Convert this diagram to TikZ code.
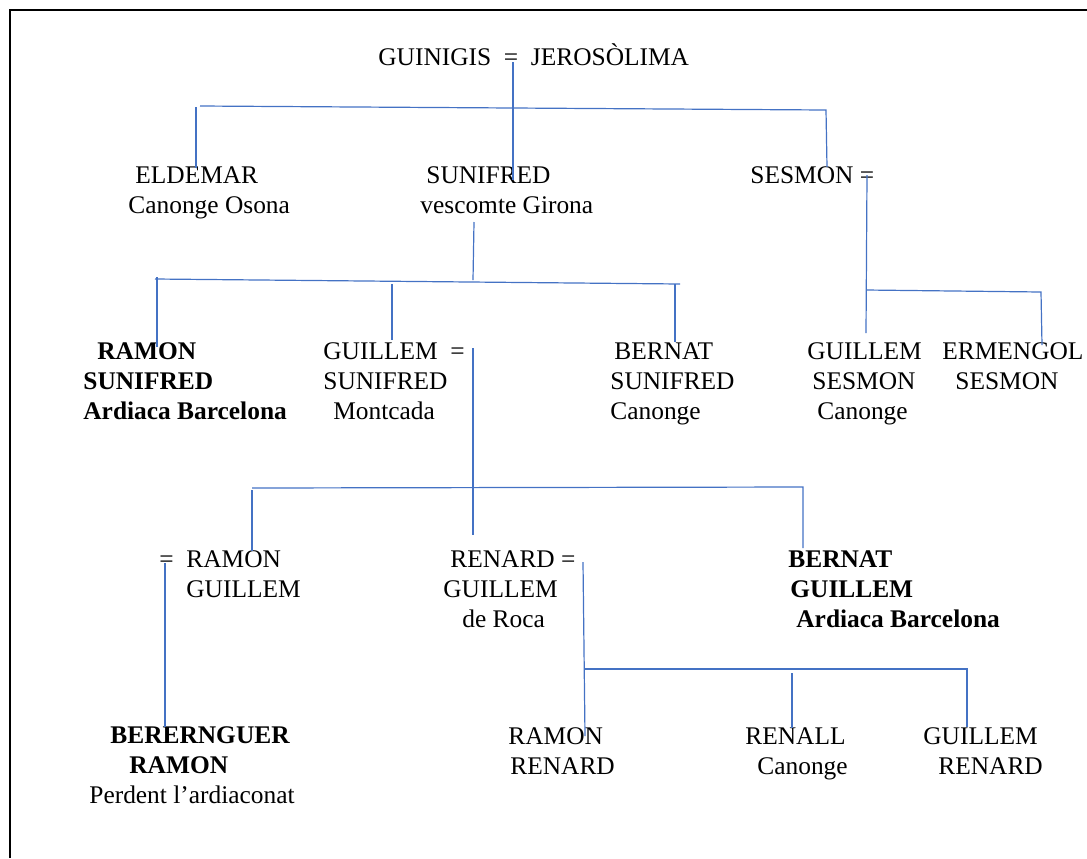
\documentclass[tikz,border=0pt]{standalone}
\usepackage{fontspec}
\setmainfont{Liberation Serif}
\definecolor{linkblue}{HTML}{4472C4}

\begin{document}
\begin{tikzpicture}[x=0.5pt, y=-0.5pt,
        person/.style={inner sep=0pt, anchor=base west, align=left, font=\fontsize{12.7}{15}\selectfont},
        heir/.style={person, font=\fontsize{12.7}{15}\selectfont\bfseries},
        link/.style={draw=linkblue, line width=0.6pt}]
        \path[use as bounding box] (0,0) rectangle (1087,858);
        \path[draw, line width=0.6pt] (10,858) -- (10,10) -- (1087,10);
        % parents (nodes sit on the baseline of their last line)
        \node[person] at (378,65) (guinigis) {GUINIGIS~~=~~JEROSÒLIMA};
        % first generation
        \node[person] at (128,213) (eldemar) {\hspace*{3.5pt}ELDEMAR\\Canonge Osona};
        \node[person] at (420,213) (sunifred) {\hspace*{3pt}SUNIFRED\\vescomte Girona};
        \node[person] at (750,183) (sesmon) {SESMON =};
        % second generation
        \node[heir] at (83,419) (ramonsun) {\hspace*{7pt}RAMON\\SUNIFRED\\Ardiaca Barcelona};
        \node[person] at (323,419) (guillemsun) {GUILLEM~~=\\SUNIFRED\\\hspace*{5pt}Montcada};
        \node[person] at (610,419) (bernatsun) {\hspace*{2pt}BERNAT\\SUNIFRED\\Canonge};
        \node[person] at (807,419) (guillemses) {GUILLEM\\\hspace*{2.5pt}SESMON\\\hspace*{5pt}Canonge};
        \node[person] at (942,389) (ermengol) {ERMENGOL\\\hspace*{6.5pt}SESMON};
        % third generation
        \node[person] at (159,597) (ramongui) {=~~RAMON\\\hspace*{13.5pt}GUILLEM};
        \node[person] at (443,627) (renard) {\hspace*{3.5pt}RENARD =\\GUILLEM\\\hspace*{9.5pt}de Roca};
        \node[heir] at (788,627) (bernatgui) {BERNAT\\\hspace*{1pt}GUILLEM\\\hspace*{4pt}Ardiaca Barcelona};
        % fourth generation
        \node[heir] at (89,773) (berenguer) {\hspace*{10.5pt}BERERNGUER\\\hspace*{20pt}RAMON};
        \node[person] at (89,803) (perdent) {Perdent l’ardiaconat};
        \node[person] at (508,774) (ramonren) {RAMON\\\hspace*{1pt}RENARD};
        \node[person] at (745,774) (renall) {RENALL\\\hspace*{6pt}Canonge};
        \node[person] at (923,774) (guillemren) {GUILLEM\\\hspace*{7.5pt}RENARD};
        % joints
        \coordinate (c0a) at (513,62);   \coordinate (c0b) at (513,180);
        \coordinate (b1w) at (200,106);  \coordinate (b1e) at (826,110);
        \coordinate (ses) at (827,167);
        \coordinate (eld1) at (196,107); \coordinate (eld2) at (196,168);
        \coordinate (sun1) at (474,222); \coordinate (sun2) at (473,280);
        \coordinate (b2w) at (155,279);  \coordinate (b2e) at (680,284);
        \coordinate (ram1) at (157,277); \coordinate (ram2) at (157,347);
        \coordinate (gui1) at (392,284); \coordinate (gui2) at (392,340);
        \coordinate (ber1) at (675,284); \coordinate (ber2) at (675,342);
        \coordinate (ses1) at (867,175); \coordinate (ses2) at (866,333);
        \coordinate (b3w) at (866,290);  \coordinate (b3e) at (1041,292);
        \coordinate (erm) at (1042,345);
        \coordinate (gs1) at (473,348);  \coordinate (gs2) at (473,535);
        \coordinate (b4w) at (252,488);  \coordinate (b4e) at (803,487);
        \coordinate (bg) at (803,548);
        \coordinate (rg1) at (252,490);  \coordinate (rg2) at (252,551);
        \coordinate (rgm1) at (165,563); \coordinate (rgm2) at (165,727);
        \coordinate (ren1) at (583,562); \coordinate (ren2) at (585,736);
        \coordinate (b5w) at (585,669);  \coordinate (b5e) at (967,669);
        \coordinate (gr) at (967,727);
        \coordinate (rll1) at (792,673); \coordinate (rll2) at (792,728);
        % lines
        \path[link] (c0a) -- (c0b);
        \path[link] (b1w) -- (b1e) -- (ses);
        \path[link] (eld1) -- (eld2);
        \path[link] (sun1) -- (sun2);
        \path[link] (b2w) -- (b2e);
        \path[link] (ram1) -- (ram2);
        \path[link] (gui1) -- (gui2);
        \path[link] (ber1) -- (ber2);
        \path[link] (ses1) -- (ses2);
        \path[link] (b3w) -- (b3e) -- (erm);
        \path[link] (gs1) -- (gs2);
        \path[link] (b4w) -- (b4e) -- (bg);
        \path[link] (rg1) -- (rg2);
        \path[link] (rgm1) -- (rgm2);
        \path[link] (ren1) -- (ren2);
        \path[link] (b5w) -- (b5e) -- (gr);
        \path[link] (rll1) -- (rll2);
\end{tikzpicture}
\end{document}
